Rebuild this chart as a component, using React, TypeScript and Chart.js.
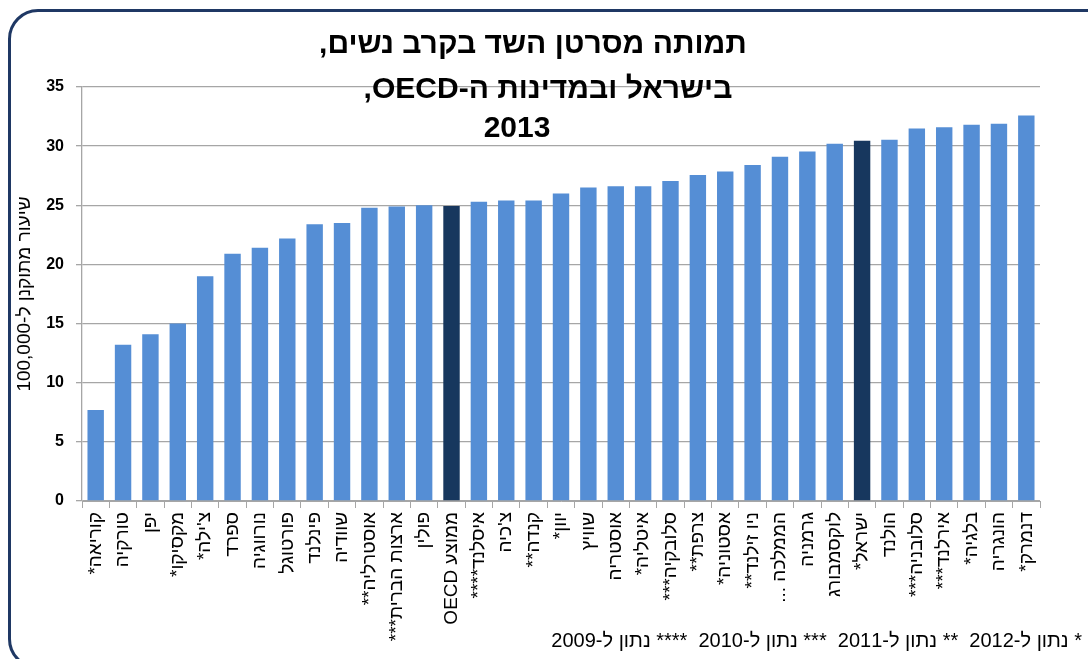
import React, { useEffect, useRef } from 'react';
import { Chart, registerables } from 'chart.js';

Chart.register(...registerables);

const countries: string[] = [
  'קוריאה*',
  'טורקיה',
  'יפן',
  'מקסיקו*',
  "צ'ילה*",
  'ספרד',
  'נורווגיה',
  'פורטוגל',
  'פינלנד',
  'שוודיה',
  'אוסטרליה**',
  'ארצות הברית***',
  'פולין',
  'ממוצע OECD',
  'איסלנד****',
  "צ'כיה",
  'קנדה**',
  'יוון*',
  'שוויץ',
  'אוסטריה',
  'איטליה*',
  'סלובקיה***',
  'צרפת**',
  'אסטוניה*',
  'ניו זילנד**',
  'הממלכה ...',
  'גרמניה',
  'לוקסמבורג',
  'ישראל*',
  'הולנד',
  'סלובניה***',
  'אירלנד***',
  'בלגיה*',
  'הונגריה',
  'דנמרק*',
];

const rates: number[] = [
  7.7, 13.2, 14.1, 15.0, 19.0, 20.9, 21.4, 22.2, 23.4, 23.5, 24.8, 24.9, 25.0,
  24.95, 25.3, 25.4, 25.4, 26.0, 26.5, 26.6, 26.6, 27.05, 27.55, 27.85, 28.4,
  29.1, 29.55, 30.2, 30.45, 30.55, 31.5, 31.6, 31.8, 31.9, 32.6,
];

const highlighted: string[] = ['ממוצע OECD', 'ישראל*'];

const yMin = 0;
const yMax = 35;
const yStep = 5;

const titleLines: string[] = ['תמותה מסרטן השד בקרב נשים,', 'בישראל ובמדינות ה-OECD,', '2013'];
const yAxisTitle = 'שיעור מתוקנן ל-100,000';
const footnote = '* נתון ל-2012  ** נתון ל-2011  *** נתון ל-2010  **** נתון ל-2009';

const LIGHT = '#558ED5';
const DARK = '#17375E';
const GRID = '#a6a6a6';
const FONT = '"Liberation Sans", Arial, sans-serif';

export default function App() {
  const canvasRef = useRef<HTMLCanvasElement | null>(null);

  useEffect(() => {
    const canvas = canvasRef.current;
    if (!canvas) return;
    const chart = new Chart(canvas, {
      type: 'bar',
      data: {
        labels: countries,
        datasets: [
          {
            data: rates,
            backgroundColor: countries.map((c) => (highlighted.includes(c) ? DARK : LIGHT)),
            barPercentage: 0.6,
            categoryPercentage: 1,
            borderWidth: 0,
          },
        ],
      },
      options: {
        responsive: false,
        animation: false,
        devicePixelRatio: 1,
        layout: { padding: { left: 0, top: 87, right: 48, bottom: 0 } },
        plugins: {
          legend: { display: false },
          title: { display: false },
          tooltip: { enabled: false },
        },
        scales: {
          x: {
            grid: {
              offset: true,
              drawOnChartArea: false,
              drawTicks: true,
              tickLength: 7,
              color: GRID,
              lineWidth: 1,
            },
            border: { color: GRID, width: 1 },
            ticks: {
              autoSkip: false,
              maxRotation: 90,
              minRotation: 90,
              padding: 4,
              color: '#000',
              font: { family: FONT, size: 19 },
            },
            afterFit: (scale: any) => {
              scale.height = 158;
            },
          },
          y: {
            min: yMin,
            max: yMax,
            ticks: {
              stepSize: yStep,
              color: '#000',
              padding: 12,
              font: { family: FONT, size: 16, weight: 'bold' },
            },
            grid: {
              color: GRID,
              lineWidth: 1.3,
              drawTicks: true,
              tickLength: 6,
            },
            border: { color: GRID, width: 1.3 },
            title: {
              display: true,
              text: yAxisTitle,
              color: '#000',
              padding: { top: 13, bottom: 0 },
              font: { family: FONT, size: 19 },
            },
            afterFit: (scale: any) => {
              scale.width = 82;
            },
          },
        },
      },
    });
    return () => chart.destroy();
  }, []);

  const titleCenters = [533, 548, 517];
  const titleTops = [26, 71, 110];

  return (
    <div
      style={{
        position: 'fixed',
        left: 0,
        top: 0,
        width: 1088,
        height: 659,
        overflow: 'hidden',
        background: '#fff',
        fontFamily: FONT,
      }}
    >
      <div
        style={{
          position: 'absolute',
          left: 8,
          top: 9,
          width: 1110,
          height: 660,
          border: '3px solid #1F3864',
          borderRadius: 30,
          boxSizing: 'border-box',
        }}
      />
      <canvas
        ref={canvasRef}
        width={1088}
        height={659}
        dir="rtl"
        style={{ position: 'absolute', left: 0, top: 0, width: 1088, height: 659, direction: 'rtl' }}
      />
      {titleLines.map((line, i) => (
        <div
          key={i}
          dir="rtl"
          style={{
            position: 'absolute',
            left: titleCenters[i],
            top: titleTops[i],
            transform: 'translateX(-50%)',
            whiteSpace: 'nowrap',
            fontSize: 30,
            lineHeight: '34px',
            fontWeight: 'bold',
            color: '#000',
          }}
        >
          {line}
        </div>
      ))}
      <div
        dir="rtl"
        style={{
          position: 'absolute',
          right: 6,
          top: 629,
          whiteSpace: 'pre',
          fontSize: 20,
          lineHeight: '22px',
          color: '#000',
        }}
      >
        {footnote}
      </div>
    </div>
  );
}
